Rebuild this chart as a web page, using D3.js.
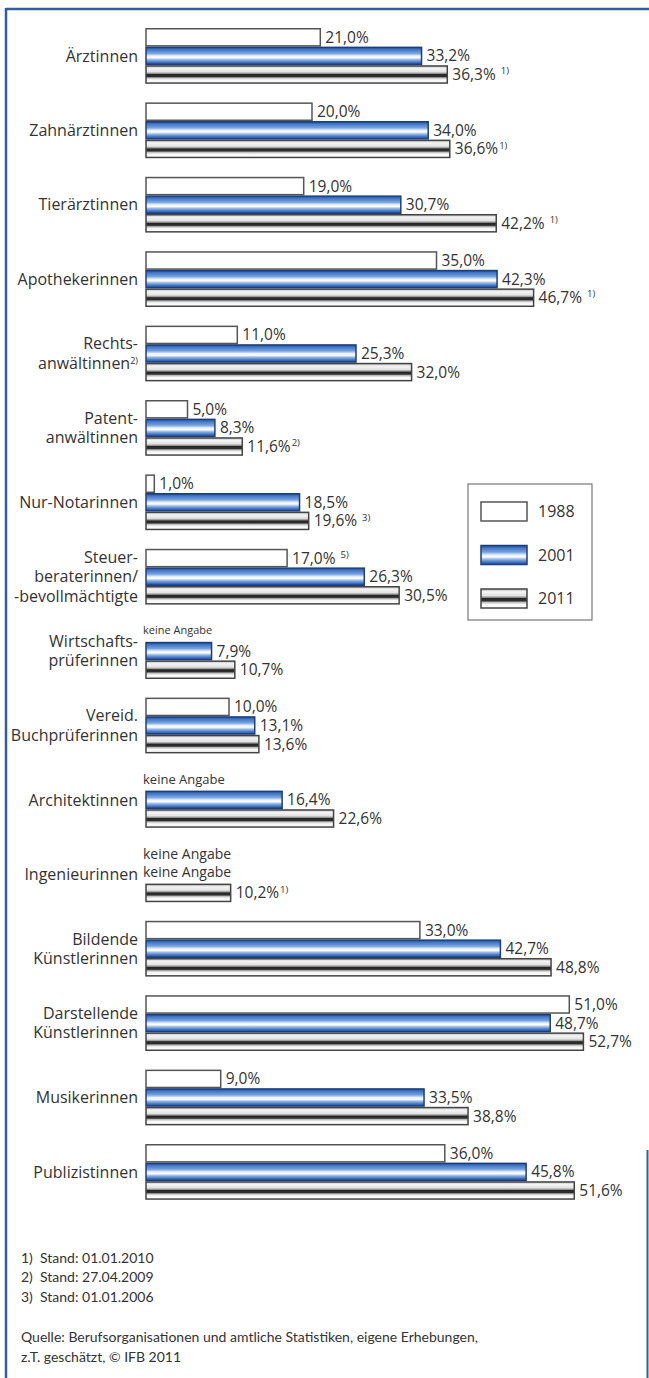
<!DOCTYPE html>
<html><head><meta charset="utf-8">
<script src="https://cdn.jsdelivr.net/npm/d3@7"></script>
<style>
html,body{margin:0;padding:0;background:#fff;}
svg{display:block;}
text{font-family:"Open Sans",sans-serif;fill:#333;}
</style></head>
<body>
<script>
const categories = [
  ["Ärztinnen"], ["Zahnärztinnen"], ["Tierärztinnen"], ["Apothekerinnen"],
  ["Rechts-", "anwältinnen²⁾"], ["Patent-", "anwältinnen"], ["Nur-Notarinnen"],
  ["Steuer-", "beraterinnen/", "-bevollmächtigte"], ["Wirtschafts-", "prüferinnen"],
  ["Vereid.", "Buchprüferinnen"], ["Architektinnen"], ["Ingenieurinnen"],
  ["Bildende", "Künstlerinnen"], ["Darstellende", "Künstlerinnen"], ["Musikerinnen"], ["Publizistinnen"]
];
const years = ["1988", "2001", "2011"];
const values1988 = [21.0, 20.0, 19.0, 35.0, 11.0, 5.0, 1.0, 17.0, null, 10.0, null, null, 33.0, 51.0, 9.0, 36.0];
const values2001 = [33.2, 34.0, 30.7, 42.3, 25.3, 8.3, 18.5, 26.3, 7.9, 13.1, 16.4, null, 42.7, 48.7, 33.5, 45.8];
const values2011 = [36.3, 36.6, 42.2, 46.7, 32.0, 11.6, 19.6, 30.5, 10.7, 13.6, 22.6, 10.2, 48.8, 52.7, 38.8, 51.6];
const notes1988 = ["", "", "", "", "", "", "", " 5)", "", "", "", "", "", "", "", ""];
const notes2011 = [" 1)", "1)", " 1)", " 1)", "", "2)", " 3)", "", "", "", "", "1)", "", "", "", ""];
const footnotes = ["1)  Stand: 01.01.2010", "2)  Stand: 27.04.2009", "3)  Stand: 01.01.2006"];
const sourceLines = ["Quelle: Berufsorganisationen und amtliche Statistiken, eigene Erhebungen,", "z.T. geschätzt, © IFB 2011"];
const noData = "keine Angabe";

const W = 649, H = 1378;
const svg = d3.select("body").append("svg").attr("width", W).attr("height", H);
const defs = svg.append("defs");

function grad(id, stops) {
  const g = defs.append("linearGradient").attr("id", id).attr("x1", 0).attr("x2", 0).attr("y1", 0).attr("y2", 1);
  stops.forEach(s => g.append("stop").attr("offset", s[0]).attr("stop-color", s[1]));
}
grad("gBlue", [[0, "#1d4c98"], [0.12, "#3f75c6"], [0.35, "#78a2dc"], [0.5, "#e8f0fb"], [0.6, "#ffffff"], [0.72, "#95b8e6"], [0.88, "#3f72c2"], [1, "#1d4c98"]]);
grad("gGray", [[0, "#bdbdbd"], [0.15, "#f4f4f4"], [0.35, "#e2e2e2"], [0.45, "#8a8a8a"], [0.5, "#262626"], [0.62, "#2e2e2e"], [0.7, "#bbbbbb"], [0.8, "#f6f6f6"], [1, "#ffffff"]]);

const fills = {"1988": "#ffffff", "2001": "url(#gBlue)", "2011": "url(#gGray)"};
const strokes = {"1988": "#555", "2001": "#1c3f7c", "2011": "#444"};

// frame
const frameColor = "#2f5f9c";
svg.append("line").attr("x1", 6).attr("x2", W).attr("y1", 9).attr("y2", 9).attr("stroke", frameColor).attr("stroke-width", 2.5);
svg.append("line").attr("x1", 6).attr("x2", 6).attr("y1", 8).attr("y2", H).attr("stroke", frameColor).attr("stroke-width", 2.5);
svg.append("line").attr("x1", 647.5).attr("x2", 647.5).attr("y1", 1150).attr("y2", H).attr("stroke", frameColor).attr("stroke-width", 2);

const x = d3.scaleLinear().domain([0, 60]).range([146, 146 + 60 * 8.3]);
const step = 74.4, pin = 0.25, top0 = 28;
const y = d3.scaleBand().domain(d3.range(categories.length))
  .range([top0, top0 + step * (categories.length - pin)]).paddingInner(pin).paddingOuter(0);
const ySub = d3.scaleBand().domain(years).range([0, y.bandwidth()]);

const series = {"1988": values1988, "2001": values2001, "2011": values2011};
const notes = {"1988": notes1988, "2001": categories.map(() => ""), "2011": notes2011};

const groups = svg.selectAll("g.grp").data(categories).join("g").attr("class", "grp")
  .attr("transform", (d, i) => `translate(0,${y(i)})`);

// category labels
groups.each(function(lines, i) {
  const g = d3.select(this);
  const lh = 19.5;
  const cy = y.bandwidth() / 2;
  lines.forEach((ln, k) => {
    const yy = cy + (k - (lines.length - 1) / 2) * lh;
    const t = g.append("text").attr("text-anchor", "end").attr("font-size", 16).attr("x", 138)
      .attr("y", yy).attr("dy", "0.35em");
    t.append("tspan").text(ln.replace("²⁾", ""));
    if (ln.includes("²⁾")) {
      t.append("tspan").attr("font-size", 9).attr("dy", "-0.55em").text("2)");
    }
  });
});

years.forEach(yr => {
  groups.each(function(cat, i) {
    const g = d3.select(this);
    const v = series[yr][i];
    const by = ySub(yr);
    const bh = ySub.bandwidth();
    if (v == null) {
      const fs = i === 8 ? 11 : (i === 10 ? 13 : 14);
      g.append("text").attr("x", 143).attr("y", by + bh / 2 - 2).attr("dy", "0.35em")
        .attr("font-size", fs).text(noData);
      return;
    }
    g.append("rect").attr("x", x(0)).attr("y", by + 0.75).attr("width", x(v) - x(0)).attr("height", bh - 1.5)
      .attr("fill", fills[yr]).attr("stroke", strokes[yr]).attr("stroke-width", 1.5);
    const t = g.append("text").attr("x", x(v) + 5).attr("y", by + bh / 2).attr("dy", "0.35em")
      .attr("font-size", 15.5);
    t.append("tspan").text(d3.format(".1f")(v).replace(".", ",") + "%");
    const n = notes[yr][i];
    if (n) {
      t.append("tspan").attr("font-size", 9.5).attr("dy", "-0.6em").attr("dx", n.startsWith(" ") ? 5 : 1).text(n.trim());
    }
  });
});

// legend
const lg = svg.append("g").attr("transform", "translate(468,484)");
lg.append("rect").attr("x", 0).attr("y", 0).attr("width", 124).attr("height", 136)
  .attr("fill", "#fff").attr("stroke", "#777").attr("stroke-width", 1.2);
years.forEach((yr, k) => {
  const yy = 18 + k * 43.5;
  lg.append("rect").attr("x", 13).attr("y", yy).attr("width", 46).attr("height", 19)
    .attr("fill", fills[yr]).attr("stroke", strokes[yr]).attr("stroke-width", 1.5);
  lg.append("text").attr("x", 70).attr("y", yy + 9.5).attr("dy", "0.35em").attr("font-size", 16).text(yr);
});

// footnotes
footnotes.forEach((f, k) => {
  svg.append("text").attr("x", 21).attr("y", 1258 + k * 19.5).attr("dy", "0.35em")
    .attr("font-size", 14).style("font-family", "Lato, sans-serif").attr("xml:space", "preserve").text(f);
});
sourceLines.forEach((f, k) => {
  svg.append("text").attr("x", 21).attr("y", 1337 + k * 20).attr("dy", "0.35em")
    .attr("font-size", 14).style("font-family", "Lato, sans-serif").text(f);
});
</script>
</body></html>
